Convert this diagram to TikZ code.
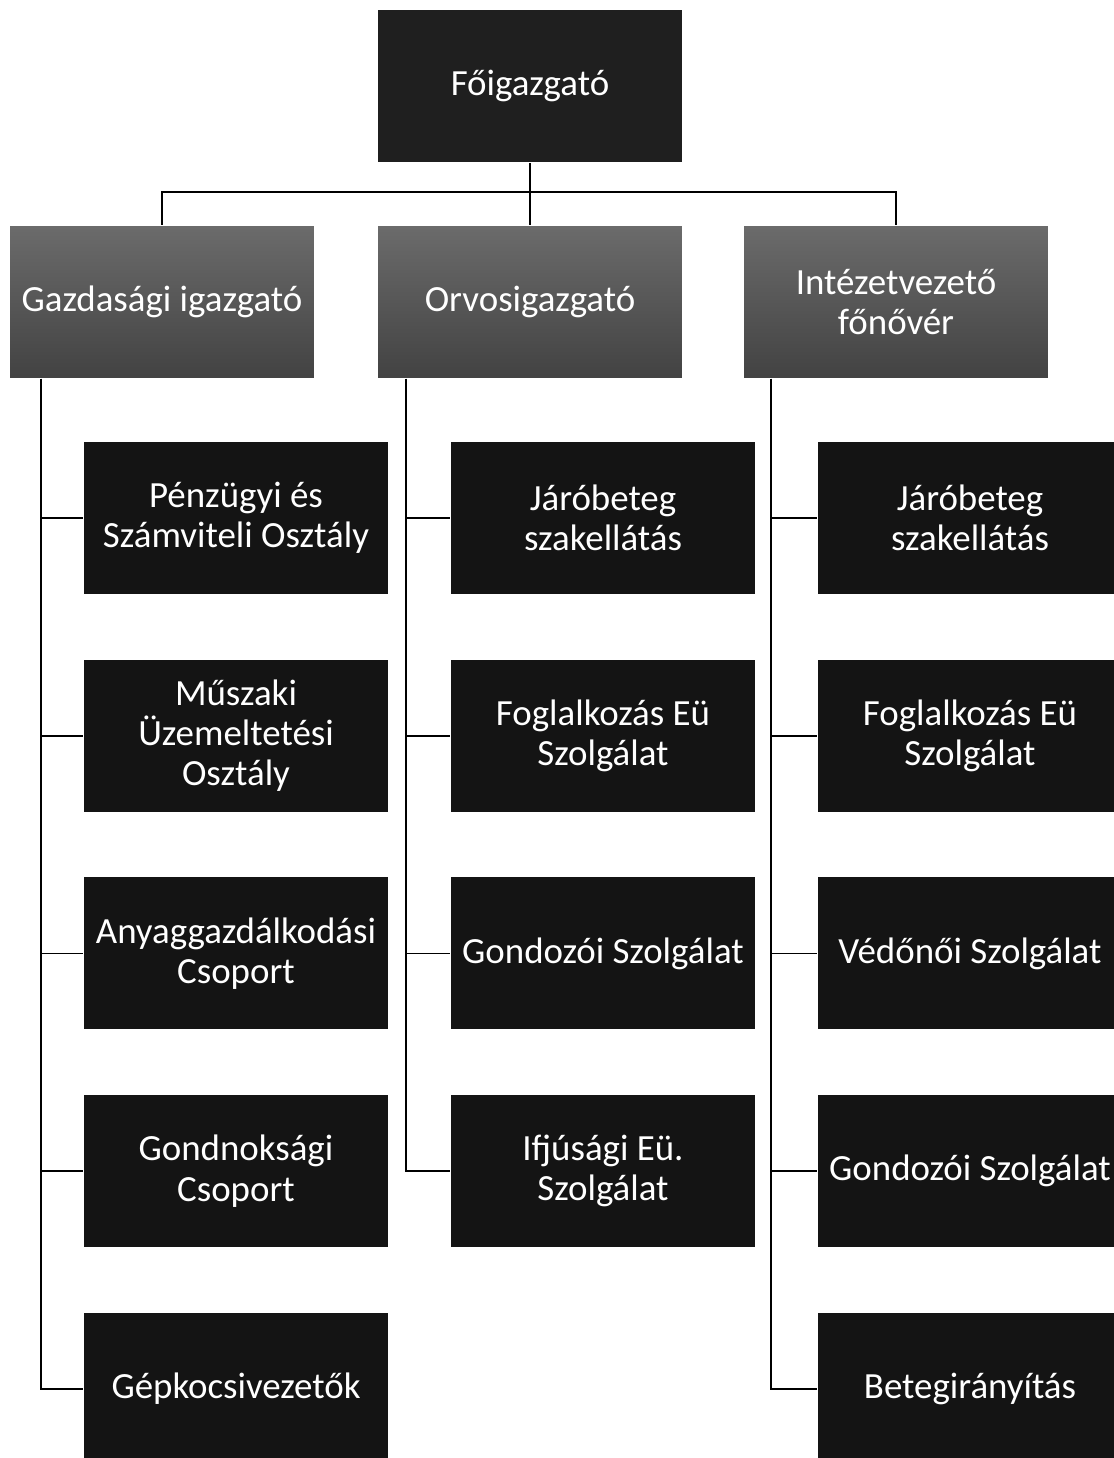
\documentclass[tikz,border=0pt]{standalone}
\usepackage{fontspec}
\setmainfont{Carlito}
\usepackage{tikz}
\usetikzlibrary{positioning}

\begin{document}
\begin{tikzpicture}[x=0.02cm,y=-0.02cm,line width=1pt,node distance=1.28cm,
										font=\fontsize{21}{23}\selectfont,
										box/.style={rectangle,minimum width=6.08cm,minimum height=3.04cm,
											inner sep=0pt,align=center,text=white},
										boss/.style={box,fill=black!88},
										head/.style={box,top color=black!58,bottom color=black!74},
										unit/.style={box,fill=black!92}]
	\useasboundingbox (0,0) rectangle (1113,1458);

	\node[boss] (top)   at (530,86)  {Főigazgató};
	\node[head] (gazd)  at (162,302) {Gazdasági igazgató};
	\node[head] (orvos) at (530,302) {Orvosigazgató};
	\node[head] (intez) at (896,302) {Intézetvezető\\főnővér};

	\node[unit] (g1) at (236,518)  {Pénzügyi és\\Számviteli Osztály};
	\node[unit] (g2) [below=of g1] {Műszaki\\Üzemeltetési\\Osztály};
	\node[unit] (g3) [below=of g2] {Anyaggazdálkodási\\Csoport};
	\node[unit] (g4) [below=of g3] {Gondnoksági\\Csoport};
	\node[unit] (g5) [below=of g4] {Gépkocsivezetők};

	\node[unit] (o1) at (603,518)  {Járóbeteg\\szakellátás};
	\node[unit] (o2) [below=of o1] {Foglalkozás Eü\\Szolgálat};
	\node[unit] (o3) [below=of o2] {Gondozói Szolgálat};
	\node[unit] (o4) [below=of o3] {Ifjúsági Eü.\\Szolgálat};

	\node[unit] (i1) at (970,518)  {Járóbeteg\\szakellátás};
	\node[unit] (i2) [below=of i1] {Foglalkozás Eü\\Szolgálat};
	\node[unit] (i3) [below=of i2] {Védőnői Szolgálat};
	\node[unit] (i4) [below=of i3] {Gondozói Szolgálat};
	\node[unit] (i5) [below=of i4] {Betegirányítás};

	\coordinate (bus) at (530,192);
	\draw (top.south) -- (bus);
	\foreach \h in {gazd,orvos,intez}
		\draw (bus) -| (\h.north);

	\foreach \c in {g1,g2,g3,g4,g5}
		\draw ([xshift=0.64cm]gazd.south west) |- (\c.west);
	\foreach \c in {o1,o2,o3,o4}
		\draw ([xshift=0.58cm]orvos.south west) |- (\c.west);
	\foreach \c in {i1,i2,i3,i4,i5}
		\draw ([xshift=0.56cm]intez.south west) |- (\c.west);
\end{tikzpicture}
\end{document}
